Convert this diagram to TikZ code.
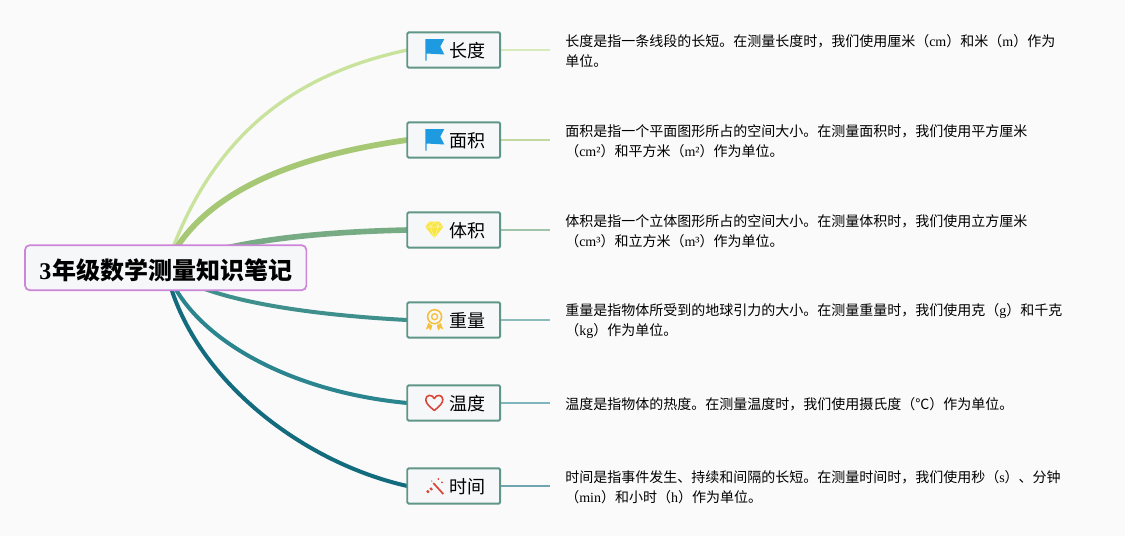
\documentclass[tikz,border=0pt]{standalone}
\usepackage{fontspec}
\setmainfont{Noto Sans CJK SC}
\newfontfamily\serifpart{Liberation Serif}
\usetikzlibrary{backgrounds}
\newcommand{\lat}[1]{{\serifpart #1}}
\definecolor{pagecol}{HTML}{FAFAFB}
\definecolor{boxfill}{HTML}{F6F7F8}
\definecolor{boxline}{HTML}{5F9688}
\definecolor{rootline}{HTML}{CC85D8}
\definecolor{lengthcol}{HTML}{C9E39C}
\definecolor{areacol}{HTML}{A6C874}
\definecolor{volumecol}{HTML}{76AB84}
\definecolor{weightcol}{HTML}{3F8F8C}
\definecolor{tempcol}{HTML}{2A858E}
\definecolor{timecol}{HTML}{136B7E}
\definecolor{flagcol}{HTML}{1E9BE0}
\definecolor{gemcol}{HTML}{F8E540}
\definecolor{medalcol}{HTML}{F5C03E}
\definecolor{redcol}{HTML}{D8483A}
\tikzset{
	rootbox/.style={draw=rootline,line width=1.3pt,fill=boxfill,rounded corners=3.5pt,outer sep=0pt,minimum width=211pt,minimum height=33.75pt,text height=18pt,text depth=0pt,inner sep=0pt,font=\fontsize{18pt}{20pt}\selectfont\bfseries},
	topicbox/.style={draw=boxline,line width=1.4pt,fill=boxfill,rounded corners=1pt,outer sep=0pt,minimum width=69.6pt,minimum height=26.5pt,text width=47.6pt,text height=12.8pt,text depth=1pt,inner xsep=11pt,inner ysep=0pt,align=right,font=\fontsize{13.5pt}{15pt}\selectfont},
	desctext/.style={anchor=west,inner sep=0pt,align=left,font=\fontsize{10.5pt}{15pt}\selectfont},
	stub/.style={line width=1pt},
}
% icons, drawn from the west side of a box
\newcommand{\flagicon}{
	\fill[flagcol] (18,-11) -- (37,-11) -- (33,-3.5) -- (37,4.5) -- (19.3,3.5) -- (19.3,10.5) -- (18,10.5) -- cycle;
}
\newcommand{\gemicon}{
	\fill[gemcol] (22,-8.5) -- (32,-8.5) -- (36,-3) -- (27,8) -- (18,-3) -- cycle;
	\draw[gemcol!45!white,line width=.4pt] (18,-3) -- (36,-3) (23,-3) -- (27,8) -- (31,-3) (22,-8.5) -- (23,-3) -- (27,-8.5) -- (31,-3) -- (32,-8.5);
}
\newcommand{\medalicon}{
	\draw[medalcol,line width=1.2pt] (27.3,-3.3) circle (7);
	\draw[medalcol,line width=1pt] (27.3,-3.3) circle (3);
	\fill[medalcol] (21,3) -- (25,5.5) -- (23.5,10.5) -- (21.5,8) -- (18.5,9.5) -- cycle;
	\fill[medalcol] (33.5,3) -- (29.5,5.5) -- (31,10.5) -- (33,8) -- (36,9.5) -- cycle;
}
\newcommand{\hearticon}{
	\draw[redcol,line width=1.2pt,line join=round] (27,7.5) .. controls (21,2.5) and (18.5,0) .. (18.5,-3.5) .. controls (18.5,-8.5) and (25,-9) .. (27,-4.5) .. controls (29,-9) and (35.5,-8.5) .. (35.5,-3.5) .. controls (35.5,0) and (33,2.5) .. (27,7.5) -- cycle;
}
\newcommand{\wandicon}{
	\draw[redcol,line width=1.3pt] (26,-3) -- (36,8);
	\draw[redcol,line width=2pt] (19.7,6.3) -- (21.5,4.9);
	\draw[redcol,line width=2pt] (23,3.7) -- (24.7,2.3);
	\fill[redcol] (31,-7) circle (1) (34.7,-3.7) circle (1) (24.5,-5) circle (.7);
}

\begin{document}
\begin{tikzpicture}[x=.75pt,y=-.75pt]
	\useasboundingbox (0,0) rectangle (1125,536);
	\node[rootbox] (root) at (165.7,267.7) {\lat{3}\kern.5pt 年级数学测量知识笔记};
	\node[topicbox] (lengthbox) at (453.7,50) {长度};
	\node[topicbox] (areabox) at (453.7,140) {面积};
	\node[topicbox] (volumebox) at (453.7,230) {体积};
	\node[topicbox] (weightbox) at (453.7,320) {重量};
	\node[topicbox] (tempbox) at (453.7,403) {温度};
	\node[topicbox] (timebox) at (453.7,486) {时间};
	
	\coordinate (lengthend) at (550,50);
	\coordinate (areaend) at (550,140);
	\coordinate (volumeend) at (550,230);
	\coordinate (weightend) at (550,320);
	\coordinate (tempend) at (550,403);
	\coordinate (timeend) at (550,486);
	
	\node[desctext] (lengthtext) at (565,51.3) {长度是指一条线段的长短。在测量长度时，我们使用厘米（\lat{cm}）和米（\lat{m}）作为\\单位。};
	\node[desctext] (areatext) at (565,141.3) {面积是指一个平面图形所占的空间大小。在测量面积时，我们使用平方厘米\\（\lat{cm²}）和平方米（\lat{m²}）作为单位。};
	\node[desctext] (volumetext) at (565,231.3) {体积是指一个立体图形所占的空间大小。在测量体积时，我们使用立方厘米\\（\lat{cm³}）和立方米（\lat{m³}）作为单位。};
	\node[desctext] (weighttext) at (565,321.3) {重量是指物体所受到的地球引力的大小。在测量重量时，我们使用克（\lat{g}）和千克\\（\lat{kg}）作为单位。};
	\node[desctext] (temptext) at (565,404.3) {温度是指物体的热度。在测量温度时，我们使用摄氏度（°C）作为单位。};
	\node[desctext] (timetext) at (565,487.3) {时间是指事件发生、持续和间隔的长短。在测量时间时，我们使用秒（\lat{s}）、分钟\\（\lat{min}）和小时（\lat{h}）作为单位。};
	
	\begin{scope}[shift={(lengthbox.west)}]\flagicon\end{scope}
	\begin{scope}[shift={(areabox.west)}]\flagicon\end{scope}
	\begin{scope}[shift={(volumebox.west)}]\gemicon\end{scope}
	\begin{scope}[shift={(weightbox.west)}]\medalicon\end{scope}
	\begin{scope}[shift={(tempbox.west)}]\hearticon\end{scope}
	\begin{scope}[shift={(timebox.west)}]\wandicon\end{scope}
	
	\begin{pgfonlayer}{background}
		\fill[pagecol] (0,0) rectangle (1125,536);
		\draw[lengthcol,line width=2.5pt] (root.center) .. controls (211,133) and (296,74) .. (lengthbox.west);
		\draw[areacol,line width=4.3pt] (root.center) .. controls (200,190) and (300,155) .. (areabox.west);
		\draw[volumecol,line width=4.2pt] (root.center) .. controls (225,240) and (320,232) .. (volumebox.west);
		\draw[weightcol,line width=3pt] (root.center) .. controls (200,300) and (310,315) .. (weightbox.west);
		\draw[tempcol,line width=3pt] (root.center) .. controls (190,338) and (290,392) .. (tempbox.west);
		\draw[timecol,line width=3pt] (root.center) .. controls (188,375) and (300,462) .. (timebox.west);
		\draw[stub,lengthcol!70!white] (lengthbox.east) -- (lengthend);
		\draw[stub,areacol!70!white] (areabox.east) -- (areaend);
		\draw[stub,volumecol!70!white] (volumebox.east) -- (volumeend);
		\draw[stub,weightcol!60!white] (weightbox.east) -- (weightend);
		\draw[stub,tempcol!60!white] (tempbox.east) -- (tempend);
		\draw[stub,timecol!60!white] (timebox.east) -- (timeend);
	\end{pgfonlayer}
\end{tikzpicture}
\end{document}
